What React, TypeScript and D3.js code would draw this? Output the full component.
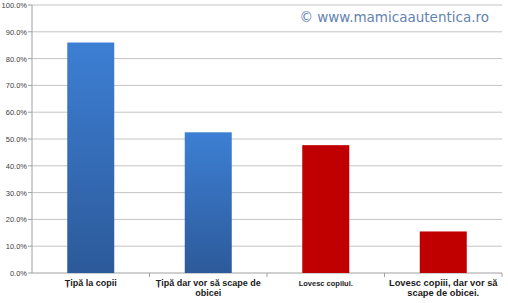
import React from "react";
import * as d3 from "d3";

const categories = ["Țipă la copii", "Țipă dar vor să scape de obicei", "Lovesc copilul.", "Lovesc copiii, dar vor să scape de obicei."];
const labelLines = [["Țipă la copii"], ["Țipă dar vor să scape de", "obicei"], ["Lovesc copilul."], ["Lovesc copiii, dar vor să", "scape de obicei."]];
const values = [0.86, 0.525, 0.477, 0.155];
const barKinds = ["blue", "blue", "red", "red"];
const yTicks = [0, 0.1, 0.2, 0.3, 0.4, 0.5, 0.6, 0.7, 0.8, 0.9, 1.0];
const labelSizes = [9, 9, 7.5, 9.3];

export default function App() {
  const W = 508, H = 303;
  const left = 32, right = 502, top = 5, bottom = 273;
  const x = d3.scaleBand<string>().domain(categories).range([left, right]).paddingInner(0.6).paddingOuter(0.3);
  const xb = d3.scaleBand<string>().domain(categories).range([left, right]);
  const y = d3.scaleLinear().domain([0, 1]).range([bottom, top]);
  const fmt = d3.format(".1%");
  return (
    <svg width={W} height={H} style={{ position: "absolute", left: 0, top: 0, background: "#fff" }} fontFamily="Liberation Sans, Arial, sans-serif">
      <defs>
        <linearGradient id="blueG" x1="0" y1="0" x2="0" y2="1">
          <stop offset="0%" stopColor="#3d7fd4" />
          <stop offset="100%" stopColor="#2c5a9a" />
        </linearGradient>
      </defs>
      {yTicks.map((t) => (
        <g key={t}>
          <line x1={left} x2={right} y1={y(t)} y2={y(t)} stroke={t === 0 ? "#a0a0a0" : "#c4c4c4"} strokeWidth={1} />
          <line x1={left - 4} x2={left} y1={y(t)} y2={y(t)} stroke="#a0a0a0" />
          <text x={left - 5} y={y(t) + 3} textAnchor="end" fontSize={7.5} fill="#404040">{fmt(t)}</text>
        </g>
      ))}
      <line x1={left} x2={left} y1={top} y2={bottom} stroke="#a0a0a0" />
      {categories.map((c, i) => (
        <line key={"tk" + i} x1={xb(c)! + xb.bandwidth()} x2={xb(c)! + xb.bandwidth()} y1={bottom} y2={bottom + 4} stroke="#a0a0a0" />
      ))}
      {categories.map((c, i) => (
        <rect key={c} x={x(c)} y={y(values[i])} width={x.bandwidth()} height={bottom - y(values[i])} fill={barKinds[i] === "blue" ? "url(#blueG)" : "#c00000"} />
      ))}
      {categories.map((c, i) => (
        <text key={"l" + i} x={x(c)! + x.bandwidth() / 2} y={286} textAnchor="middle" fontSize={labelSizes[i]} fontWeight="bold" fill="#202020">
          {labelLines[i].map((ln, j) => (
            <tspan key={j} x={x(c)! + x.bandwidth() / 2} dy={j === 0 ? 0 : 10}>{ln}</tspan>
          ))}
        </text>
      ))}
      <text x={489} y={22} textAnchor="end" fontSize={13.5} fill="#6383b0" fontFamily="DejaVu Sans, sans-serif">© www.mamicaautentica.ro</text>
    </svg>
  );
}
